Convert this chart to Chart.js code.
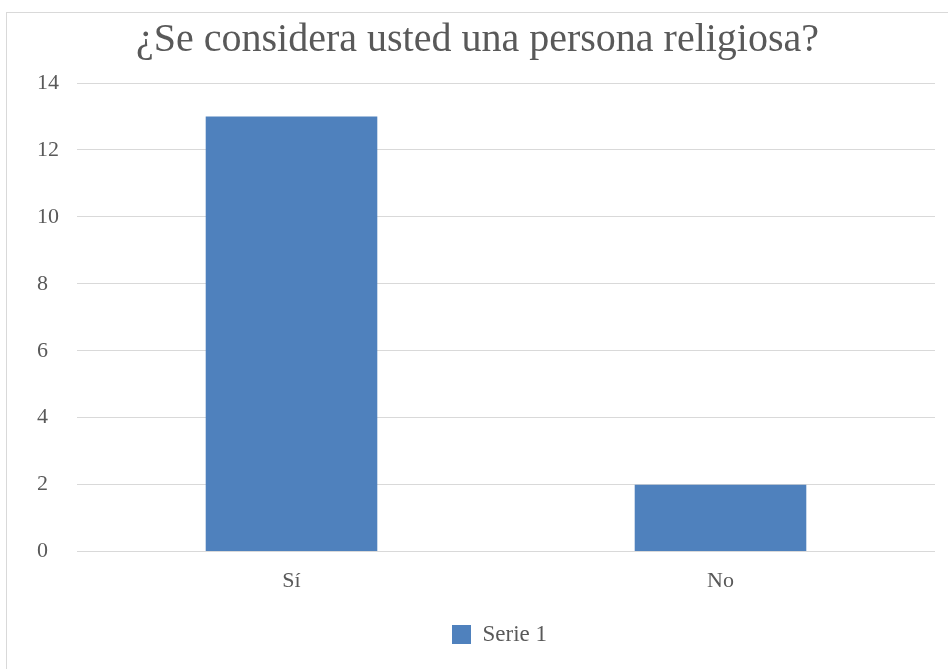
<!DOCTYPE html>
<html><head><meta charset="utf-8">
<script src="https://cdn.jsdelivr.net/npm/chart.js@4"></script>
<style>
html,body{margin:0;padding:0;background:#fff;width:948px;height:669px;overflow:hidden;}
#frame{position:absolute;left:6px;top:12px;width:960px;height:680px;border:1px solid #d9d9d9;box-sizing:border-box;}
canvas{position:absolute;left:0;top:0;}
</style></head>
<body>
<div id="frame"></div>
<canvas id="c" width="948" height="669"></canvas>
<script>
const categories = ["Sí", "No"];
const seriesName = "Serie 1";
const values = [13, 2];
const yMin = 0, yMax = 14, yStep = 2;
const titleText = "¿Se considera usted una persona religiosa?";

const FONT = "'Liberation Serif', 'DejaVu Serif', serif";
const GREY = "#595959";

// fine layout adjustments: left-aligned y labels column, legend centred under plot
const layoutTweak = {
  id: 'layoutTweak',
  afterLayout(chart) {
    chart.scales.y.left += 17;
    chart.legend.left += 22;
    chart.legend.right += 22;
  }
};

new Chart(document.getElementById('c'), {
  type: 'bar',
  data: {
    labels: categories,
    datasets: [{
      label: seriesName,
      data: values,
      backgroundColor: '#4f81bd',
      borderWidth: 0,
      categoryPercentage: 1,
      barPercentage: 0.4
    }]
  },
  plugins: [layoutTweak],
  options: {
    responsive: false,
    animation: false,
    devicePixelRatio: 1,
    layout: { padding: { left: 20, right: 13, top: 16, bottom: 13 } },
    plugins: {
      title: {
        display: true, text: titleText, color: GREY,
        font: { family: FONT, size: 40, weight: 'normal' },
        padding: { top: 0, bottom: 19 }
      },
      legend: {
        display: true, position: 'bottom',
        labels: {
          color: GREY, boxWidth: 19, boxHeight: 19,
          font: { family: FONT, size: 23 }, padding: 13
        }
      },
      tooltip: { enabled: false }
    },
    scales: {
      x: {
        grid: { display: false, drawTicks: false },
        border: { display: false },
        ticks: { color: GREY, font: { family: FONT, size: 22 }, padding: 16 }
      },
      y: {
        min: yMin, max: yMax,
        ticks: { stepSize: yStep, color: GREY, font: { family: FONT, size: 22 }, crossAlign: 'far' },
        grid: { color: '#d9d9d9', lineWidth: 1, drawTicks: false },
        border: { display: false },
        afterFit: (s) => { s.width = 57; }
      }
    }
  }
});
</script>
</body></html>
